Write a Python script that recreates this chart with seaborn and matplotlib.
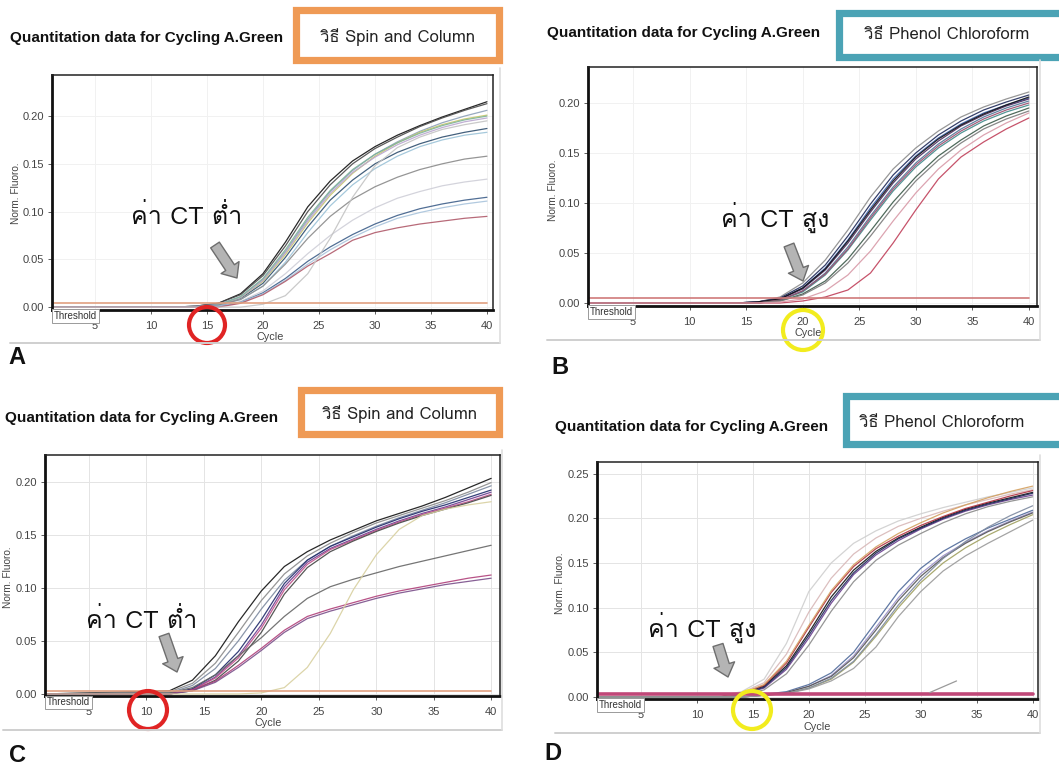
import matplotlib
matplotlib.use("Agg")
import numpy as np
import pandas as pd
import matplotlib.pyplot as plt
import seaborn as sns
from matplotlib import font_manager
from matplotlib.patches import Rectangle, Ellipse, FancyArrowPatch
from matplotlib.lines import Line2D

# ---- data ----
cycles = [1, 12, 14, 16, 18, 20, 22, 24, 26, 28, 30, 32, 34, 36, 38, 40]

panel_a_curves = [
    [0, 0, 0.001, 0.004, 0.014, 0.035, 0.068, 0.105, 0.132, 0.153, 0.168, 0.180, 0.190, 0.199, 0.207, 0.215],
    [0, 0, 0.001, 0.004, 0.013, 0.033, 0.064, 0.100, 0.128, 0.150, 0.166, 0.178, 0.189, 0.198, 0.206, 0.213],
    [0, 0, 0.001, 0.003, 0.011, 0.029, 0.058, 0.092, 0.121, 0.143, 0.160, 0.173, 0.184, 0.193, 0.200, 0.206],
    [0, 0, 0, 0.002, 0.009, 0.025, 0.052, 0.084, 0.112, 0.133, 0.150, 0.162, 0.171, 0.178, 0.183, 0.187],
    [0, 0, 0, 0.002, 0.010, 0.027, 0.055, 0.088, 0.117, 0.140, 0.158, 0.172, 0.183, 0.191, 0.197, 0.201],
    [0, 0, 0, 0.002, 0.008, 0.022, 0.047, 0.078, 0.106, 0.128, 0.145, 0.158, 0.168, 0.175, 0.180, 0.183],
    [0, 0, 0, 0.002, 0.010, 0.028, 0.057, 0.090, 0.119, 0.141, 0.157, 0.170, 0.180, 0.188, 0.194, 0.198],
    [0, 0, 0, 0.002, 0.011, 0.030, 0.060, 0.094, 0.122, 0.144, 0.160, 0.172, 0.182, 0.190, 0.196, 0.200],
    [0, 0, 0, 0.002, 0.008, 0.022, 0.045, 0.072, 0.095, 0.113, 0.126, 0.136, 0.144, 0.150, 0.155, 0.158],
    [0, 0, 0, 0.001, 0.006, 0.017, 0.035, 0.056, 0.075, 0.091, 0.104, 0.114, 0.121, 0.127, 0.131, 0.134],
    [0, 0, 0, 0.001, 0.005, 0.015, 0.030, 0.048, 0.063, 0.076, 0.087, 0.096, 0.103, 0.108, 0.112, 0.115],
    [0, 0, 0, 0.001, 0.005, 0.014, 0.028, 0.045, 0.060, 0.073, 0.084, 0.093, 0.099, 0.104, 0.108, 0.111],
    [0, 0, 0, 0, 0.004, 0.013, 0.027, 0.043, 0.056, 0.070, 0.078, 0.083, 0.087, 0.090, 0.093, 0.095],
    [0, 0, 0, 0, 0, 0.003, 0.012, 0.035, 0.072, 0.115, 0.148, 0.167, 0.178, 0.186, 0.191, 0.195],
]
panel_a_flat = [0.004, 0.004, 0.004, 0.004, 0.004, 0.004, 0.004, 0.004, 0.004, 0.004, 0.004, 0.004, 0.004, 0.004, 0.004, 0.004]

panel_b_curves = [
    [0, 0, 0, 0.001, 0.006, 0.020, 0.043, 0.073, 0.106, 0.134, 0.155, 0.172, 0.186, 0.196, 0.204, 0.211],
    [0, 0, 0, 0.001, 0.005, 0.017, 0.038, 0.067, 0.099, 0.128, 0.150, 0.168, 0.182, 0.193, 0.201, 0.208],
    [0, 0, 0, 0.001, 0.004, 0.015, 0.035, 0.063, 0.095, 0.124, 0.147, 0.165, 0.179, 0.190, 0.198, 0.205],
    [0, 0, 0, 0.001, 0.004, 0.014, 0.033, 0.060, 0.091, 0.120, 0.144, 0.162, 0.177, 0.188, 0.197, 0.204],
    [0, 0, 0, 0, 0.003, 0.012, 0.030, 0.056, 0.087, 0.116, 0.140, 0.159, 0.174, 0.186, 0.195, 0.202],
    [0, 0, 0, 0, 0.003, 0.011, 0.028, 0.053, 0.083, 0.112, 0.136, 0.155, 0.170, 0.182, 0.191, 0.198],
    [0, 0, 0, 0.001, 0.004, 0.015, 0.034, 0.062, 0.093, 0.122, 0.146, 0.164, 0.178, 0.189, 0.198, 0.206],
    [0, 0, 0, 0, 0.003, 0.012, 0.029, 0.054, 0.085, 0.114, 0.138, 0.157, 0.172, 0.184, 0.193, 0.200],
    [0, 0, 0, 0, 0.002, 0.009, 0.022, 0.044, 0.072, 0.101, 0.126, 0.147, 0.163, 0.177, 0.187, 0.195],
    [0, 0, 0, 0, 0.002, 0.008, 0.020, 0.040, 0.067, 0.096, 0.122, 0.143, 0.160, 0.174, 0.184, 0.192],
    [0, 0, 0, 0, 0, 0.002, 0.006, 0.013, 0.030, 0.060, 0.093, 0.124, 0.146, 0.161, 0.174, 0.185],
    [0, 0, 0, 0, 0.001, 0.004, 0.012, 0.028, 0.052, 0.082, 0.110, 0.134, 0.153, 0.168, 0.180, 0.190],
]
panel_b_flat = [0.005, 0.005, 0.005, 0.005, 0.005, 0.005, 0.005, 0.005, 0.005, 0.005, 0.005, 0.005, 0.005, 0.005, 0.005, 0.005]

panel_c_curves = [
    [0, 0.003, 0.013, 0.036, 0.068, 0.097, 0.120, 0.134, 0.145, 0.154, 0.163, 0.170, 0.177, 0.185, 0.194, 0.203],
    [0, 0.002, 0.010, 0.029, 0.058, 0.088, 0.113, 0.130, 0.142, 0.152, 0.161, 0.168, 0.175, 0.182, 0.190, 0.199],
    [0, 0.001, 0.008, 0.024, 0.050, 0.080, 0.107, 0.126, 0.139, 0.149, 0.158, 0.166, 0.173, 0.180, 0.188, 0.196],
    [0, 0, 0.004, 0.016, 0.036, 0.065, 0.101, 0.124, 0.137, 0.146, 0.155, 0.163, 0.170, 0.176, 0.183, 0.190],
    [0, 0, 0.004, 0.015, 0.034, 0.062, 0.098, 0.122, 0.136, 0.145, 0.154, 0.162, 0.169, 0.175, 0.181, 0.188],
    [0, 0, 0.005, 0.018, 0.040, 0.070, 0.104, 0.126, 0.139, 0.148, 0.157, 0.165, 0.172, 0.178, 0.185, 0.192],
    [0, 0, 0.003, 0.013, 0.031, 0.058, 0.094, 0.119, 0.134, 0.144, 0.153, 0.161, 0.168, 0.174, 0.180, 0.187],
    [0, 0.001, 0.006, 0.018, 0.036, 0.053, 0.073, 0.090, 0.101, 0.108, 0.114, 0.120, 0.125, 0.130, 0.135, 0.140],
    [0, 0, 0.004, 0.012, 0.027, 0.043, 0.060, 0.073, 0.080, 0.086, 0.092, 0.097, 0.101, 0.105, 0.109, 0.112],
    [0, 0, 0.003, 0.011, 0.025, 0.041, 0.058, 0.071, 0.078, 0.084, 0.090, 0.095, 0.099, 0.103, 0.106, 0.109],
    [0, 0, 0, 0, 0, 0.001, 0.006, 0.025, 0.057, 0.098, 0.131, 0.155, 0.168, 0.174, 0.178, 0.181],
]
panel_c_flat = [0.003, 0.003, 0.003, 0.003, 0.003, 0.003, 0.003, 0.003, 0.003, 0.003, 0.003, 0.003, 0.003, 0.003, 0.003, 0.003]

panel_d_curves = [
    [0, 0.001, 0.006, 0.020, 0.060, 0.118, 0.150, 0.172, 0.186, 0.197, 0.205, 0.212, 0.218, 0.224, 0.229, 0.234],
    [0, 0.001, 0.005, 0.016, 0.048, 0.095, 0.133, 0.160, 0.178, 0.191, 0.200, 0.208, 0.215, 0.221, 0.227, 0.232],
    [0, 0, 0.004, 0.012, 0.035, 0.072, 0.112, 0.142, 0.163, 0.178, 0.190, 0.201, 0.210, 0.217, 0.223, 0.229],
    [0, 0, 0.004, 0.013, 0.038, 0.078, 0.117, 0.146, 0.166, 0.180, 0.192, 0.202, 0.211, 0.218, 0.225, 0.231],
    [0, 0, 0.003, 0.010, 0.031, 0.066, 0.105, 0.137, 0.159, 0.175, 0.188, 0.199, 0.208, 0.215, 0.221, 0.226],
    [0, 0, 0.003, 0.011, 0.033, 0.069, 0.108, 0.139, 0.161, 0.177, 0.189, 0.200, 0.209, 0.216, 0.222, 0.228],
    [0, 0, 0.004, 0.014, 0.040, 0.080, 0.119, 0.148, 0.168, 0.183, 0.195, 0.206, 0.215, 0.223, 0.230, 0.236],
    [0, 0, 0.002, 0.008, 0.026, 0.058, 0.096, 0.129, 0.153, 0.170, 0.183, 0.195, 0.205, 0.213, 0.219, 0.224],
    [0, 0, 0, 0.003, 0.006, 0.014, 0.027, 0.050, 0.084, 0.118, 0.144, 0.163, 0.177, 0.189, 0.199, 0.209],
    [0, 0, 0, 0.002, 0.005, 0.012, 0.024, 0.046, 0.078, 0.111, 0.138, 0.158, 0.173, 0.186, 0.197, 0.207],
    [0, 0, 0, 0.002, 0.005, 0.012, 0.023, 0.044, 0.075, 0.108, 0.135, 0.156, 0.172, 0.185, 0.196, 0.206],
    [0, 0, 0, 0.002, 0.004, 0.010, 0.020, 0.039, 0.068, 0.100, 0.128, 0.150, 0.167, 0.181, 0.193, 0.204],
    [0, 0, 0, 0.002, 0.004, 0.010, 0.021, 0.040, 0.070, 0.103, 0.131, 0.155, 0.174, 0.190, 0.203, 0.214],
    [0, 0, 0, 0.002, 0.004, 0.009, 0.018, 0.032, 0.056, 0.090, 0.118, 0.141, 0.158, 0.172, 0.185, 0.198],
]
panel_d_flat = [0.003, 0.003, 0.003, 0.003, 0.003, 0.003, 0.003, 0.003, 0.003, 0.003, 0.003, 0.003, 0.003, 0.003, 0.003, 0.003]
panel_d_stray_cycles = [30.8, 33.2]
panel_d_stray_values = [0.005, 0.018]

x_ticks = [5, 10, 15, 20, 25, 30, 35, 40]
y_ticks_abc = [0.00, 0.05, 0.10, 0.15, 0.20]
y_ticks_d = [0.00, 0.05, 0.10, 0.15, 0.20, 0.25]

title = "Quantitation data for Cycling A.Green"
method_spin = "วิธี Spin and Column"
method_phenol = "วิธี Phenol Chloroform"
ct_low = "ค่า CT ต่ำ"
ct_high = "ค่า CT สูง"

# ---- line colours (style) ----
colors_a = ["#111111", "#4a4a4a", "#8da0b8", "#2f4f6f", "#c8c86a", "#9cc3d8", "#b9a6cf",
            "#7fb39a", "#8a8a8a", "#cfcfd8", "#3e5f8a", "#a9c4dc", "#b05a6a", "#c4c4c4"]
colors_b = ["#8c8c8c", "#1f2a5a", "#3a5fb0", "#4b2a5e", "#4f7396", "#3f8a8a",
            "#111111", "#9a4d6e", "#3c5a4a", "#7a7a7a", "#c0405a", "#d89aa8"]
colors_c = ["#111111", "#8a8a8a", "#7d8aa0", "#6a3d8f", "#c0508a", "#1f2a6a",
            "#444444", "#666666", "#b0407a", "#7a4f8a", "#d8d0a0"]
colors_d = ["#cfcfcf", "#d8b8b8", "#111111", "#b03040", "#6a3d8f", "#1f2a5a", "#d4a060",
            "#8a8a8a", "#4f6a9a", "#9a90c8", "#555555", "#a0a060", "#7d8aa0", "#9a9a9a"]

W, H = 1059, 769


def fx(px):
    return px / W


def fy(py):
    return 1 - py / H


def find_thai_font():
    try:
        from fontTools.ttLib import TTFont
    except ImportError:
        return None
    for f in font_manager.fontManager.ttflist:
        try:
            tt = TTFont(f.fname, fontNumber=0, lazy=True)
            cmap = tt.getBestCmap() or {}
            if 0x0E04 in cmap and 0x0E48 in cmap:
                return f.name
        except Exception:
            continue
    return None


sns.set_theme(style="white")
thai = find_thai_font()
latin_fam = ["Liberation Sans", "DejaVu Sans"]
thai_fam = ([thai] if thai else []) + ["DejaVu Sans"]
plt.rcParams["font.family"] = latin_fam

fig = plt.figure(figsize=(W / 100, H / 100), dpi=100)
fig.patch.set_facecolor("white")


def long_form(curves, prefix):
    rows = []
    for i, vals in enumerate(curves):
        for c, v in zip(cycles, vals):
            rows.append({"cycle": c, "fluoro": v, "well": f"{prefix}{i:02d}"})
    return pd.DataFrame(rows)


panels = [
    dict(curves=panel_a_curves, flat=panel_a_flat, colors=colors_a, flat_color="#e0a080", flat_lw=1.2,
         box=(52, 75, 493, 310), xlim=(1.16, 40.54), ylim=(-0.003, 0.243), yticks=y_ticks_abc,
         grid="#f1f1f1", prefix="A",
         title_xy=(10, 38), method=method_spin, mbox=(292, 7, 503, 63), mcol="#ef9a55", mtext_xy=(397, 37),
         ct=ct_low, ct_xy=(187, 217), arrow=((215, 245), (237, 278)),
         circle=((207, 325), 18, "#e02424"), letter=("A", 17, 358),
         ylab_xy=(16, 193), xlab_xy=(270, 337), frame=(10, 68, 500, 343)),
    dict(curves=panel_b_curves, flat=panel_b_flat, colors=colors_b, flat_color="#d07a7a", flat_lw=1.2,
         box=(588, 67, 1037, 306), xlim=(1.02, 40.72), ylim=(-0.003, 0.236), yticks=y_ticks_abc,
         grid="#f1f1f1", prefix="B",
         title_xy=(547, 33), method=method_phenol, mbox=(835, 10, 1066, 60), mcol="#4ba3b5", mtext_xy=(947, 35),
         ct=ct_high, ct_xy=(775, 217), arrow=((789, 245), (803, 281)),
         circle=((803, 330), 20, "#f2ec1e"), letter=("B", 560, 367),
         ylab_xy=(553, 190), xlab_xy=(808, 333), frame=(547, 60, 1040, 340)),
    dict(curves=panel_c_curves, flat=panel_c_flat, colors=colors_c, flat_color="#e0a080", flat_lw=1.2,
         box=(45, 455, 500, 696), xlim=(1.17, 40.77), ylim=(-0.0019, 0.225), yticks=y_ticks_abc,
         grid="#e4e4e4", prefix="C",
         title_xy=(5, 418), method=method_spin, mbox=(297, 386, 502, 437), mcol="#ef9a55", mtext_xy=(399, 414),
         ct=ct_low, ct_xy=(142, 620), arrow=((164, 635), (177, 672)),
         circle=((148, 710), 19, "#e02424"), letter=("C", 17, 755),
         ylab_xy=(8, 577), xlab_xy=(268, 723), frame=(3, 450, 502, 730)),
    dict(curves=panel_d_curves, flat=panel_d_flat, colors=colors_d, flat_color="#c04878", flat_lw=2.6,
         box=(597, 462, 1038, 699), xlim=(1.07, 40.48), ylim=(-0.0022, 0.263), yticks=y_ticks_d,
         grid="#e4e4e4", prefix="D",
         title_xy=(555, 427), method=method_phenol, mbox=(842, 392, 1066, 447), mcol="#4ba3b5", mtext_xy=(942, 423),
         ct=ct_high, ct_xy=(702, 627), arrow=((718, 645), (728, 677)),
         circle=((752, 710), 19, "#f2ec1e"), letter=("D", 553, 753),
         ylab_xy=(560, 583), xlab_xy=(817, 727), frame=(555, 455, 1040, 733)),
]

for p in panels:
    l, t, r, b = p["box"]
    # screenshot frame lines (light grey, right + bottom)
    fl, ft, fr, fb = p["frame"]
    fig.add_artist(Line2D([fx(fl), fx(fr)], [fy(fb), fy(fb)], color="#cfcfcf", lw=1.4))
    fig.add_artist(Line2D([fx(fr), fx(fr)], [fy(ft), fy(fb)], color="#dedede", lw=1.2))

    ax = fig.add_axes([fx(l), fy(b), (r - l) / W, (b - t) / H])
    ax.set_facecolor("white")
    df = long_form(p["curves"], p["prefix"])
    pal = {f"{p['prefix']}{i:02d}": c for i, c in enumerate(p["colors"])}
    sns.lineplot(data=df, x="cycle", y="fluoro", hue="well", palette=pal, legend=False,
                 estimator=None, sort=False, lw=0.9, alpha=0.9, ax=ax)
    flat_df = pd.DataFrame({"cycle": cycles, "fluoro": p["flat"]})
    sns.lineplot(data=flat_df, x="cycle", y="fluoro", color=p["flat_color"], lw=p["flat_lw"],
                 estimator=None, ax=ax)
    if p["prefix"] == "D":
        stray = pd.DataFrame({"cycle": panel_d_stray_cycles, "fluoro": panel_d_stray_values})
        sns.lineplot(data=stray, x="cycle", y="fluoro", color="#9a9a9a", lw=0.9, estimator=None, ax=ax)

    ax.set_xlim(*p["xlim"])
    ax.set_ylim(*p["ylim"])
    ax.set_xticks(x_ticks)
    ax.set_yticks(p["yticks"])
    ax.set_yticklabels([f"{v:.2f}" for v in p["yticks"]])
    ax.grid(True, color=p["grid"], lw=0.7)
    ax.tick_params(axis="both", labelsize=8, colors="#444444", length=3, width=0.6, direction="out")
    ax.tick_params(axis="x", bottom=True, pad=5)
    ax.tick_params(axis="y", left=True, pad=3)
    for side in ["top", "right"]:
        ax.spines[side].set_linewidth(1.1)
        ax.spines[side].set_color("#222222")
    for side in ["left", "bottom"]:
        ax.spines[side].set_linewidth(2.0)
        ax.spines[side].set_color("#111111")

    ax.set_xlabel("Cycle", fontsize=7.8, color="#444444")
    ax.set_ylabel("Norm. Fluoro.", fontsize=7.3, color="#444444")
    ax.xaxis.set_label_coords((p["xlab_xy"][0] - l) / (r - l), (b - p["xlab_xy"][1]) / (b - t))
    ax.yaxis.set_label_coords((p["ylab_xy"][0] - l) / (r - l), (b - p["ylab_xy"][1]) / (b - t))
    ax.xaxis.label.set_va("center")
    ax.yaxis.label.set_va("center")

    ax.text(0.004, -0.006, "Threshold", transform=ax.transAxes, ha="left", va="top",
            fontsize=7, color="#333333",
            bbox=dict(boxstyle="square,pad=0.2", fc="white", ec="#9a9a9a", lw=0.7))

    # title + method box
    fig.text(fx(p["title_xy"][0]), fy(p["title_xy"][1]), title, ha="left", va="center",
             fontsize=11, fontweight="bold", color="#111111")
    x0, y0, x1, y1 = p["mbox"]
    fig.add_artist(Rectangle((fx(x0 + 3.5), fy(y1 - 3.5)), (x1 - x0 - 7) / W, (y1 - y0 - 7) / H,
                             transform=fig.transFigure, fc="white", ec=p["mcol"], lw=5.2))
    fig.text(fx(p["mtext_xy"][0]), fy(p["mtext_xy"][1]), p["method"], ha="center", va="center",
             fontsize=12, color="#222222", family=thai_fam)

    # annotation: CT text, arrow, circle, panel letter
    fig.text(fx(p["ct_xy"][0]), fy(p["ct_xy"][1]), p["ct"], ha="center", va="center",
             fontsize=18, color="#111111", family=thai_fam)
    (ax0, ay0), (ax1, ay1) = p["arrow"]
    fig.add_artist(FancyArrowPatch((fx(ax0), fy(ay0)), (fx(ax1), fy(ay1)), transform=fig.transFigure,
                                   arrowstyle="simple,head_length=0.9,head_width=1.55,tail_width=0.75",
                                   mutation_scale=10, shrinkA=0, shrinkB=0,
                                   fc="#b4b4b4", ec="#6e6e6e", lw=1.0))
    (cx, cy), rad, ccol = p["circle"]
    fig.add_artist(Ellipse((fx(cx), fy(cy)), 2 * rad / W, 2 * rad / H, transform=fig.transFigure,
                           fill=False, ec=ccol, lw=3.0))
    letter, lx, ly = p["letter"]
    fig.text(fx(lx), fy(ly), letter, ha="center", va="center", fontsize=17, fontweight="bold",
             color="#111111")

fig.savefig("out.png", dpi=100)
